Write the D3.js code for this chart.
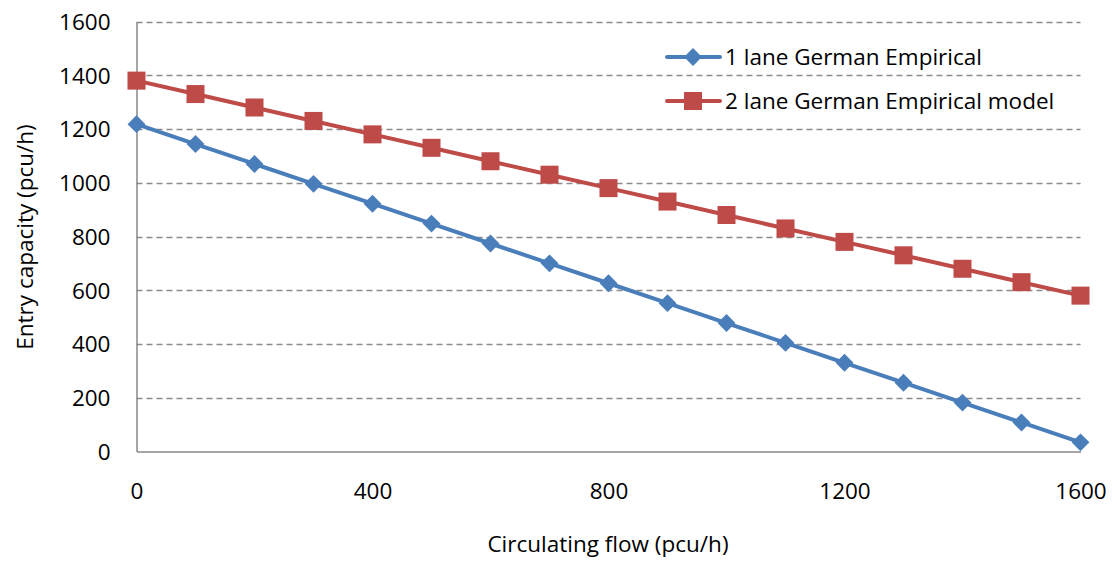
<!DOCTYPE html>
<html><head><meta charset="utf-8">
<script src="https://cdn.jsdelivr.net/npm/d3@7"></script>
<style>body{margin:0;background:#fff;} text{font-family:"Open Sans",sans-serif;fill:#000;}</style>
</head><body>
<svg id="c" width="1117" height="561"></svg>
<script>
const flow = [0,100,200,300,400,500,600,700,800,900,1000,1100,1200,1300,1400,1500,1600];
const oneLane = [1218,1144,1070,996,922,848,774,700,626,552,478,404,330,256,182,108,34];
const twoLane = [1380,1330,1280,1230,1180,1130,1080,1030,980,930,880,830,780,730,680,630,580];
const xTicks = [0,400,800,1200,1600];
const yTicks = [0,200,400,600,800,1000,1200,1400,1600];
const seriesNames = ["1 lane German Empirical","2 lane German Empirical model"];
const colors = ["#4A7EBB","#BE4B48"];

const svg = d3.select("#c");
const L=136.5, R=1080.5, T=21.5, B=451.5;
const FS = 22.5;
const x = d3.scaleLinear().domain([0,1600]).range([L,R]);
const y = d3.scaleLinear().domain([0,1600]).range([B,T]);

svg.append("g").selectAll("line").data(yTicks.filter(d=>d>0)).join("line")
  .attr("x1",L).attr("x2",R).attr("y1",d=>Math.round(y(d))+0.5).attr("y2",d=>Math.round(y(d))+0.5)
  .attr("stroke","#8c8c8c").attr("stroke-width",1.3).attr("stroke-dasharray","6,4");

const yAxis = d3.axisLeft(y).tickValues(yTicks).tickSize(0).tickPadding(26).tickFormat(d3.format("d"));
const gy = svg.append("g").attr("transform",`translate(${L},0)`).call(yAxis);
gy.select(".domain").attr("stroke","#888").attr("stroke-width",1.5);
gy.selectAll("text").attr("font-size",FS).attr("dy","0.35em");

const xAxis = d3.axisBottom(x).tickValues(xTicks).tickSize(0).tickPadding(32).tickFormat(d3.format("d"));
const gx = svg.append("g").attr("transform",`translate(0,${B})`).call(xAxis);
gx.select(".domain").attr("stroke","#888").attr("stroke-width",1.5);
gx.selectAll("text").attr("font-size",FS).attr("dy","0.71em");

svg.append("text").attr("x",608).attr("y",552).attr("text-anchor","middle").attr("font-size",FS).text("Circulating flow (pcu/h)");
svg.append("text").attr("transform","translate(33,237) rotate(-90)").attr("text-anchor","middle").attr("font-size",FS).text("Entry capacity (pcu/h)");

const line = d3.line().x((d,i)=>x(flow[i])).y(d=>y(d));
function drawSeries(vals, color, type){
  svg.append("path").datum(vals).attr("d",line).attr("fill","none").attr("stroke",color).attr("stroke-width",4).attr("stroke-linejoin","round");
  const g = svg.append("g");
  if(type==="diamond"){
    g.selectAll("path").data(vals).join("path")
      .attr("d",d3.symbol().type(d3.symbolSquare).size(160)())
      .attr("transform",(d,i)=>`translate(${x(flow[i])},${y(d)}) rotate(45)`).attr("fill",color);
  } else {
    g.selectAll("rect").data(vals).join("rect")
      .attr("x",(d,i)=>x(flow[i])-9).attr("y",d=>y(d)-9).attr("width",18).attr("height",18).attr("fill",color);
  }
}
drawSeries(oneLane, colors[0], "diamond");
drawSeries(twoLane, colors[1], "square");

const lg = svg.append("g");
const ly = [57,101];
seriesNames.forEach((n,i)=>{
  lg.append("line").attr("x1",667).attr("x2",720).attr("y1",ly[i]).attr("y2",ly[i]).attr("stroke",colors[i]).attr("stroke-width",4).attr("stroke-linecap","round");
  if(i===0){
    lg.append("path").attr("d",d3.symbol().type(d3.symbolSquare).size(160)()).attr("transform",`translate(693,${ly[i]}) rotate(45)`).attr("fill",colors[i]);
  } else {
    lg.append("rect").attr("x",693-9).attr("y",ly[i]-9).attr("width",18).attr("height",18).attr("fill",colors[i]);
  }
  lg.append("text").attr("x",725).attr("y",ly[i]).attr("dy","0.35em").attr("font-size",FS).text(n);
});
</script>
</body></html>
